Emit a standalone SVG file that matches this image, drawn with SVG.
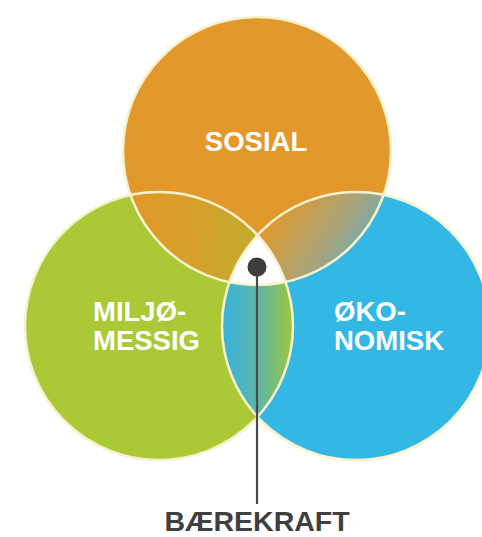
<svg xmlns="http://www.w3.org/2000/svg" width="482" height="537" viewBox="0 0 482 537">
<style>
.lbl{font-family:"Liberation Sans",Arial,sans-serif;font-weight:bold;font-size:27.5px;fill:#ffffff}
.out{fill:none;stroke:#f7f2cc;stroke-width:2.5}
.title{font-family:"Liberation Sans",Arial,sans-serif;font-weight:bold;font-size:28.5px;fill:#3f3f41}
</style>
<defs>
<clipPath id="cO"><circle cx="257" cy="151" r="134"/></clipPath>
<clipPath id="cG"><circle cx="159" cy="326" r="134"/></clipPath>
<clipPath id="cB"><circle cx="356" cy="326" r="134"/></clipPath>
<linearGradient id="gOG" gradientUnits="userSpaceOnUse" x1="140" y1="230" x2="272" y2="240">
<stop offset="0" stop-color="#e0992a"/><stop offset="0.4" stop-color="#d7a02b"/><stop offset="1" stop-color="#bcb02f"/>
</linearGradient>
<linearGradient id="gOB" gradientUnits="userSpaceOnUse" x1="277" y1="215" x2="372" y2="278">
<stop offset="0" stop-color="#dc9a32"/><stop offset="0.5" stop-color="#a9a47a"/><stop offset="1" stop-color="#4db4d6"/>
</linearGradient>
<linearGradient id="gGB" gradientUnits="userSpaceOnUse" x1="225" y1="0" x2="292" y2="0">
<stop offset="0" stop-color="#3ab3d9"/><stop offset="0.5" stop-color="#5fb6a8"/><stop offset="1" stop-color="#9cc640"/>
</linearGradient>
</defs>
<g id="node-miljo">
<circle cx="159" cy="326" r="134" fill="#abc936"/>
<text class="lbl" x="93" y="321">MILJØ-</text>
<text class="lbl" x="93" y="350">MESSIG</text>
</g>
<g id="node-okonomisk">
<circle cx="356" cy="326" r="134" fill="#33b7e4"/>
<text class="lbl" x="334" y="321">ØKO-</text>
<text class="lbl" x="334" y="350">NOMISK</text>
</g>
<g id="node-sosial">
<circle cx="257" cy="151" r="134" fill="#e2982a"/>
</g>
<g id="overlaps">
<g clip-path="url(#cO)"><circle cx="159" cy="326" r="134" fill="url(#gOG)"/></g>
<g clip-path="url(#cO)"><circle cx="356" cy="326" r="134" fill="url(#gOB)"/></g>
<g clip-path="url(#cG)"><circle cx="356" cy="326" r="134" fill="url(#gGB)"/></g>
<g clip-path="url(#cO)"><g clip-path="url(#cG)"><circle cx="356" cy="326" r="134" fill="#ffffff"/></g></g>
</g>
<g id="outlines">
<circle class="out" cx="159" cy="326" r="134"/>
<circle class="out" cx="356" cy="326" r="134"/>
<circle class="out" cx="257" cy="151" r="134"/>
</g>
<text class="lbl" x="256" y="151" text-anchor="middle">SOSIAL</text>
<g id="connectors">
<line x1="257" y1="267" x2="257" y2="504" stroke="#4a4a4c" stroke-width="2.2"/>
<circle cx="257" cy="267" r="9.5" fill="#3d3d3f"/>
</g>
<g id="node-baerekraft">
<text class="title" x="257" y="531" text-anchor="middle">BÆREKRAFT</text>
</g>
</svg>
